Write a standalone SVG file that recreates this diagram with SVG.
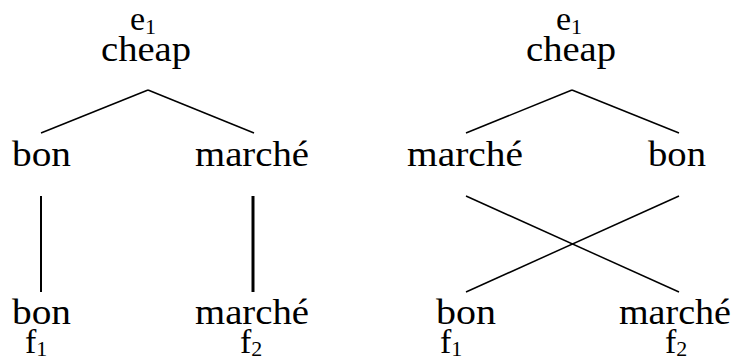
<svg xmlns="http://www.w3.org/2000/svg" width="738" height="362" viewBox="0 0 738 362">
<style>
text{font-family:"Liberation Serif","Times New Roman",serif;fill:#000}
.w{font-size:36px}
.e{font-size:34px}
.s{font-size:22px}
.c line{stroke:#000;stroke-width:1.5;fill:none}
</style>
<rect width="738" height="362" fill="#fff"/>
<g id="left-root"><text class="e" x="130" y="30">e<tspan class="s" dy="4">1</tspan></text><text class="w" x="101" y="61" textLength="90" lengthAdjust="spacingAndGlyphs">cheap</text></g>
<g id="left-bon"><text class="w" x="12" y="166" textLength="59" lengthAdjust="spacingAndGlyphs">bon</text></g>
<g id="left-marche"><text class="w" x="195" y="166" textLength="114" lengthAdjust="spacingAndGlyphs">marché</text></g>
<g id="left-f1"><text class="w" x="12" y="324" textLength="59" lengthAdjust="spacingAndGlyphs">bon</text><text class="e" x="25" y="353">f<tspan class="s" dy="3">1</tspan></text></g>
<g id="left-f2"><text class="w" x="195" y="324" textLength="114" lengthAdjust="spacingAndGlyphs">marché</text><text class="e" x="240" y="353">f<tspan class="s" dy="3">2</tspan></text></g>
<g id="right-root"><text class="e" x="556" y="30">e<tspan class="s" dy="4">1</tspan></text><text class="w" x="526" y="61" textLength="90" lengthAdjust="spacingAndGlyphs">cheap</text></g>
<g id="right-marche"><text class="w" x="407" y="166" textLength="116" lengthAdjust="spacingAndGlyphs">marché</text></g>
<g id="right-bon"><text class="w" x="648" y="166" textLength="58" lengthAdjust="spacingAndGlyphs">bon</text></g>
<g id="right-f1"><text class="w" x="436" y="324" textLength="60" lengthAdjust="spacingAndGlyphs">bon</text><text class="e" x="440" y="353">f<tspan class="s" dy="3">1</tspan></text></g>
<g id="right-f2"><text class="w" x="619" y="324" textLength="112" lengthAdjust="spacingAndGlyphs">marché</text><text class="e" x="665" y="353">f<tspan class="s" dy="3">2</tspan></text></g>
<g id="connectors" class="c">
<line x1="148" y1="90" x2="41" y2="133"/>
<line x1="148" y1="90" x2="254" y2="133"/>
<line x1="41" y1="196" x2="41" y2="292" style="stroke-width:2"/>
<line x1="253" y1="196" x2="253" y2="292" style="stroke-width:3"/>
<line x1="572" y1="90" x2="466" y2="133"/>
<line x1="572" y1="90" x2="679" y2="133"/>
<line x1="466" y1="196" x2="679" y2="292"/>
<line x1="679" y1="196" x2="466" y2="292"/>
</g>
</svg>
